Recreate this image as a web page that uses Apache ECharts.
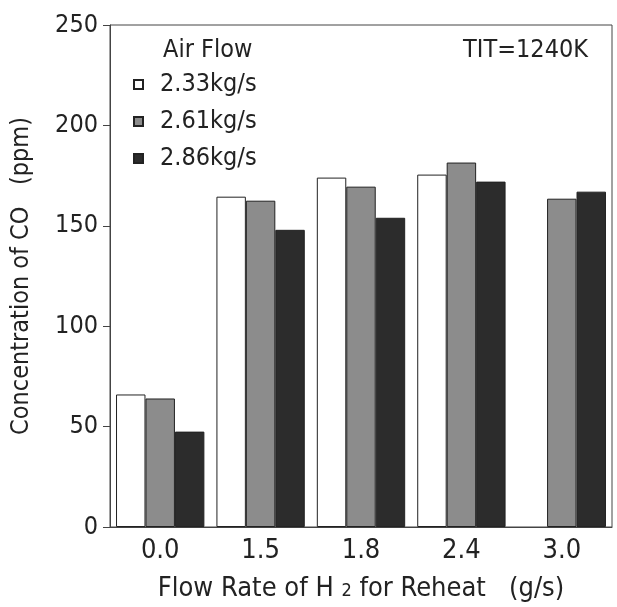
<!DOCTYPE html>
<html>
<head>
<meta charset="utf-8">
<script src="https://cdn.jsdelivr.net/npm/echarts@6/dist/echarts.min.js"></script>
<style>
  html, body { margin: 0; padding: 0; background: #fff; }
  #chart { width: 617px; height: 607px; }
</style>
</head>
<body>
<div id="chart"></div>
<script>
// H2 flow rate for reheat (g/s)
const categories = ['0.0', '1.5', '1.8', '2.4', '3.0']
const seriesNames = ['2.33kg/s', '2.61kg/s', '2.86kg/s']
// CO concentration (ppm), '-' = no bar
const air233 = [66, 164.5, 174, 175.5, '-']
const air261 = [64, 162.5, 169.5, 181.5, 163.5]
const air286 = [47.5, 148, 154, 172, 167]
const yTicks = [0, 50, 100, 150, 200, 250]

const font = '"Liberation Sans Narrow", "DejaVu Sans Condensed", sans-serif'
const ink = '#222'

const chart = echarts.init(document.getElementById('chart'))

const barStyle = (color) => ({
  color: color,
  borderColor: '#222',
  borderWidth: 1
})

const options = {
  animation: false,
  textStyle: { fontFamily: font, color: ink },
  title: [
    {
      text: 'Air Flow',
      left: 158,
      top: 33,
      textStyle: { fontFamily: font, fontSize: 25, fontWeight: 'normal', color: ink }
    },
    {
      text: 'TIT=1240K',
      right: 24,
      top: 33,
      textStyle: { fontFamily: font, fontSize: 25, fontWeight: 'normal', color: ink }
    }
  ],
  legend: {
    orient: 'vertical',
    left: 128,
    top: 67,
    itemWidth: 9,
    itemHeight: 9,
    itemGap: 12,
    icon: 'rect',
    data: seriesNames,
    textStyle: {
      fontFamily: font,
      fontSize: 25,
      color: ink,
      padding: [0, 0, 0, 12]
    }
  },
  grid: {
    left: 110,
    right: 5,
    top: 25,
    bottom: 74,
    show: true,
    borderColor: '#444',
    borderWidth: 1
  },
  xAxis: {
    type: 'category',
    data: categories,
    name: '{a|Flow Rate of H }{s|2}{a| for Reheat   (g/s)}',
    nameLocation: 'middle',
    nameGap: 48,
    nameTextStyle: {
      rich: {
        a: { fontFamily: font, fontSize: 27, color: ink },
        s: { fontFamily: font, fontSize: 18, color: ink, padding: [6, 0, 0, 0] }
      }
    },
    axisLine: { lineStyle: { color: '#444', width: 1 } },
    axisTick: { show: false },
    axisLabel: { fontFamily: font, fontSize: 27, color: ink, margin: 10 }
  },
  yAxis: {
    type: 'value',
    min: yTicks[0],
    max: yTicks[yTicks.length - 1],
    interval: yTicks[1] - yTicks[0],
    name: 'Concentration of CO   (ppm)',
    nameLocation: 'middle',
    nameGap: 76,
    nameTextStyle: { fontFamily: font, fontSize: 25, color: ink },
    splitLine: { show: false },
    axisLine: { show: true, lineStyle: { color: '#444', width: 1 } },
    axisTick: { show: true, inside: false, length: 7, lineStyle: { color: '#444' } },
    axisLabel: { fontFamily: font, fontSize: 25, color: ink, margin: 12 }
  },
  series: [
    {
      name: seriesNames[0],
      type: 'bar',
      data: air233,
      barGap: '0%',
      barCategoryGap: '12%',
      itemStyle: barStyle('#ffffff')
    },
    {
      name: seriesNames[1],
      type: 'bar',
      data: air261,
      itemStyle: barStyle('#8c8c8c')
    },
    {
      name: seriesNames[2],
      type: 'bar',
      data: air286,
      itemStyle: barStyle('#2c2c2c')
    }
  ]
}

chart.setOption(options)
window.addEventListener('resize', function () {
  chart && chart.resize()
})
</script>
</body>
</html>
